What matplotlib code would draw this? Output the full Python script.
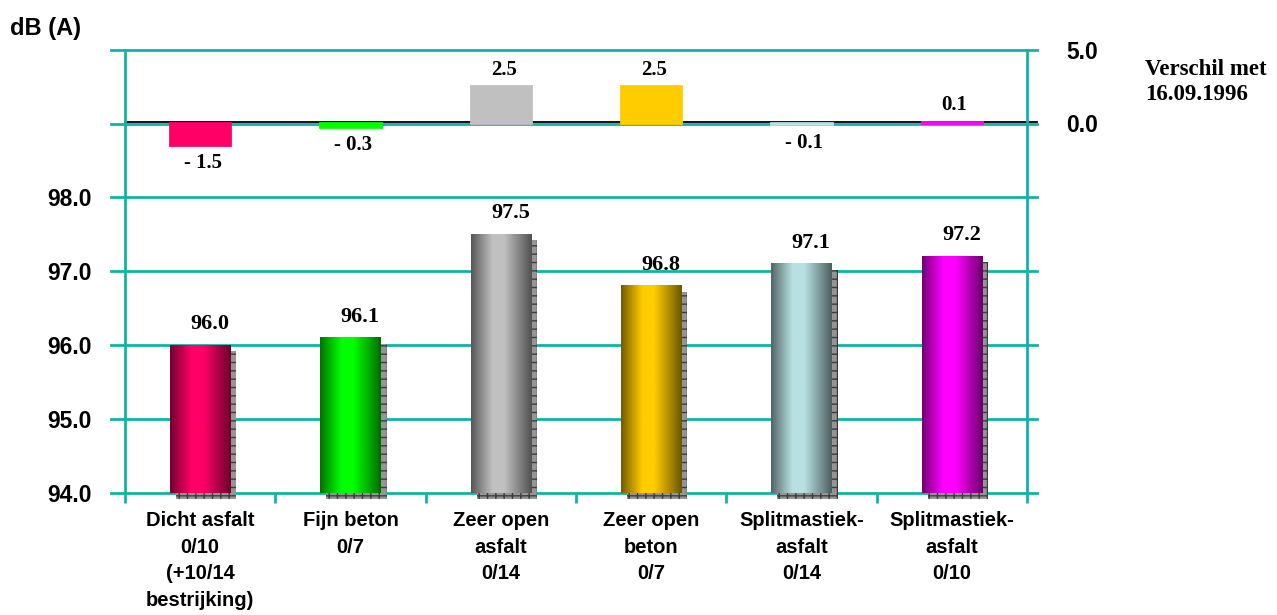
import numpy as np
import matplotlib
matplotlib.use('Agg')
import matplotlib.pyplot as plt
from matplotlib.patches import Rectangle
from matplotlib.colors import to_rgb

categories = ['Dicht asfalt\n0/10\n(+10/14\nbestrijking)', 'Fijn beton\n0/7',
              'Zeer open\nasfalt\n0/14', 'Zeer open\nbeton\n0/7',
              'Splitmastiek-\nasfalt\n0/14', 'Splitmastiek-\nasfalt\n0/10']
levels = [96.0, 96.1, 97.5, 96.8, 97.1, 97.2]
diffs = [-1.5, -0.3, 2.5, 2.5, -0.1, 0.1]
colors = ['#ff0066', '#00ff00', '#c0c0c0', '#ffcc00', '#b8e0e2', '#ff00ff']

teal = '#10b4a4'
sans = 'Liberation Sans'
serif = 'Liberation Serif'

fig = plt.figure(figsize=(12.77, 6.15), dpi=100)
x_left, x_w = 125 / 1277, 902 / 1277
ax_top = fig.add_axes([x_left, 1 - 197 / 615, x_w, 147 / 615])
ax = fig.add_axes([x_left, 1 - 493 / 615, x_w, 296 / 615])

x = np.arange(len(categories))
bw = 0.4

# top panel: difference with the earlier measurement
ax_top.set_xlim(-0.5, 5.5)
ax_top.set_ylim(-5.07, 5.0)
ax_top.axhline(5, xmin=-0.015, xmax=1.011, color=teal, lw=2, clip_on=False, zorder=1)
ax_top.axhline(-0.06, xmin=-0.015, xmax=1.011, color=teal, lw=2, clip_on=False, zorder=1)
ax_top.axhline(0.1, xmin=0, xmax=1.011, color='black', lw=1.3, clip_on=False, zorder=2)
ax_top.bar(x, diffs, width=bw, color=colors, edgecolor=colors, lw=2, zorder=5)
for xi, d in zip(x, diffs):
    txt = '- %.1f' % abs(d) if d < 0 else '%.1f' % d
    ax_top.annotate(txt, (xi, d), xytext=(2, -13 if d < 0 else 12), textcoords='offset points',
                    ha='center', va='center', fontsize=15, fontweight='bold', family=serif)
ax_top.set_yticks([0, 5])
ax_top.set_yticklabels(['0.0', '5.0'])
ax_top.yaxis.tick_right()
ax_top.tick_params(axis='y', length=0, pad=28, labelsize=16.5)
for lab in ax_top.get_yticklabels():
    lab.set_fontweight('bold')
    lab.set_family(sans)
ax_top.set_xticks([])
for s in ['top', 'bottom']:
    ax_top.spines[s].set_visible(False)
for s in ['left', 'right']:
    ax_top.spines[s].set_color(teal)
    ax_top.spines[s].set_linewidth(2)

# bottom panel: measured level in dB(A)
ax.set_xlim(-0.5, 5.5)
ax.set_ylim(94, 98)
for yv in [94, 95, 96, 97, 98]:
    ax.axhline(yv, xmin=-0.015, xmax=1.011, color=teal, lw=2, clip_on=False, zorder=1)

shade_pos = [0, 0.12, 0.35, 0.55, 0.85, 1]
shade_val = [0.45, 0.65, 1.0, 1.0, 0.62, 0.42]
t = np.linspace(0, 1, 80)
shade = np.interp(t, shade_pos, shade_val)
dx, dy = 6 / 150, 6 / 74
for xi, v, c in zip(x, levels, colors):
    x0 = xi - bw / 2
    ax.add_patch(Rectangle((x0 + dx, 94 - dy), bw, v - 94, facecolor='#959595',
                           edgecolor='#3c3c3c', hatch='++', lw=0, clip_on=False, zorder=2))
    rgb = np.array(to_rgb(c))
    grad = np.clip(rgb[None, :] * shade[:, None], 0, 1)[None, :, :]
    ax.imshow(grad, extent=(x0, x0 + bw, 94, v), aspect='auto', zorder=3, interpolation='bilinear')
    ax.annotate('%.1f' % v, (xi, v), xytext=(7, 15), textcoords='offset points',
                ha='center', va='center', fontsize=16, fontweight='bold', family=serif)
ax.set_xlim(-0.5, 5.5)
ax.set_ylim(94, 98)

ax.set_yticks([94, 95, 96, 97, 98])
ax.set_yticklabels(['%.1f' % v for v in [94, 95, 96, 97, 98]])
ax.tick_params(axis='y', length=0, pad=24, labelsize=16.5)
for lab in ax.get_yticklabels():
    lab.set_fontweight('bold')
    lab.set_family(sans)

ax.set_xticks(np.arange(-0.5, 6, 1))
ax.set_xticklabels([])
ax.tick_params(axis='x', which='major', length=7.5, width=2, color=teal, direction='out')
ax.set_xticks(x, minor=True)
ax.set_xticklabels(categories, minor=True, fontsize=14.5, fontweight='bold', family=sans,
                   linespacing=1.5)
ax.tick_params(axis='x', which='minor', length=0, pad=13)

for s in ['top', 'bottom']:
    ax.spines[s].set_visible(False)
for s in ['left', 'right']:
    ax.spines[s].set_color(teal)
    ax.spines[s].set_linewidth(2)

fig.text(10 / 1277, 1 - 28 / 615, 'dB (A)', fontsize=17, fontweight='bold', family=sans,
         va='center', ha='left')
fig.text(1145 / 1277, 1 - 82 / 615, 'Verschil met\n16.09.1996', fontsize=16.5,
         fontweight='bold', family=serif, va='center', ha='left', linespacing=1.2)

fig.savefig('out.png', dpi=100)
